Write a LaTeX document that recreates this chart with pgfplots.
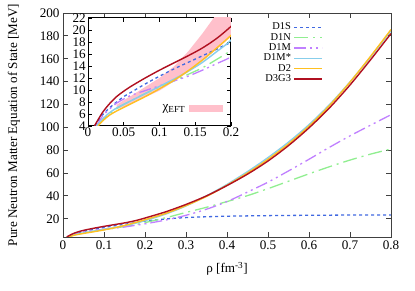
\documentclass[border=0pt]{standalone}
\usepackage{fontspec}
\setmainfont{Liberation Serif}
\usepackage{pgfplots}
\pgfplotsset{compat=1.18}
\usepackage{pgfplotstable}

\definecolor{cDIS}{HTML}{4169E1}
\definecolor{cDIN}{HTML}{90EE90}
\definecolor{cDIM}{HTML}{C080FF}
\definecolor{cDIMs}{HTML}{87CEEB}
\definecolor{cDII}{HTML}{FFC020}
\definecolor{cDIII}{HTML}{B01020}
\definecolor{cband}{HTML}{FFC0CB}

\pgfplotstableread{
x y
0.010 4.0
0.02 5.8
0.03 7.0
0.04 8.0
0.05 8.9
0.06 9.6
0.08 11.0
0.10 12.3
0.12 13.5
0.14 14.6
0.16 15.7
0.18 16.8
0.20 17.9
0.25 19.8
0.30 21.0
0.35 21.7
0.40 22.2
0.50 22.7
0.60 23.0
0.70 23.2
0.80 23.3
}\tDIS

\pgfplotstableread{
x y
0.012 4.0
0.02 5.0
0.03 6.0
0.04 6.9
0.05 7.6
0.06 8.2
0.08 9.4
0.10 10.5
0.12 11.5
0.14 12.6
0.16 13.7
0.18 15.1
0.20 16.6
0.25 20.8
0.30 25.5
0.35 30.0
0.40 35.0
0.45 40.2
0.50 46.3
0.55 52.8
0.60 59.3
0.65 65.5
0.70 71.3
0.75 76.5
0.80 81.0
}\tDIN

\pgfplotstableread{
x y
0.012 4.0
0.02 5.6
0.03 6.8
0.04 7.8
0.05 8.5
0.06 9.1
0.08 9.9
0.10 10.7
0.12 11.5
0.14 12.3
0.16 13.3
0.18 14.4
0.20 15.5
0.25 18.8
0.30 23.0
0.35 28.3
0.40 35.0
0.45 43.3
0.50 52.0
0.55 61.8
0.60 72.0
0.65 82.5
0.70 92.5
0.75 101.8
0.80 111.0
}\tDIM

\pgfplotstableread{
x y
0.012 4.0
0.02 5.1
0.03 6.2
0.04 7.0
0.05 7.6
0.06 8.2
0.08 9.4
0.10 10.6
0.12 11.8
0.14 13.1
0.16 14.6
0.18 16.4
0.20 18.3
0.25 24.0
0.30 31.2
0.35 40.0
0.40 50.0
0.45 61.2
0.50 73.5
0.55 87.0
0.60 102.3
0.65 119.8
0.70 139.7
0.75 161.5
0.80 184.5
}\tDIMs

\pgfplotstableread{
x y
0.014 4.0
0.02 4.8
0.03 5.8
0.04 6.5
0.05 7.1
0.06 7.7
0.08 8.9
0.10 10.2
0.12 11.6
0.14 13.2
0.16 15.0
0.18 17.0
0.20 19.1
0.25 24.6
0.30 31.5
0.35 39.5
0.40 49.3
0.45 60.0
0.50 72.0
0.55 85.5
0.60 101.0
0.65 119.0
0.70 139.5
0.75 162.0
0.80 185.5
}\tDII

\pgfplotstableread{
x y
0.009 4.0
0.02 6.2
0.03 7.7
0.04 8.9
0.05 9.8
0.06 10.6
0.08 12.0
0.10 13.3
0.12 14.5
0.14 15.7
0.16 17.0
0.18 18.6
0.20 20.6
0.25 26.0
0.30 32.5
0.35 40.0
0.40 49.0
0.45 59.0
0.50 70.5
0.55 84.0
0.60 99.5
0.65 117.0
0.70 137.0
0.75 159.0
0.80 182.0
}\tDIII

% chiral EFT band: lower edge forward, upper edge backward
\pgfplotstableread{
x y
0.04 6.8
0.05 7.2
0.06 7.7
0.08 8.8
0.10 9.9
0.12 11.4
0.14 13.0
0.16 14.8
0.18 16.8
0.20 18.9
0.20 26.0
0.18 22.7
0.16 19.4
0.14 16.4
0.12 13.9
0.10 12.0
0.08 10.5
0.06 9.0
0.05 8.3
0.04 7.5
}\tband

\begin{document}
\begin{tikzpicture}
\useasboundingbox (-63bp,-54bp) rectangle (352bp,237bp);
\begin{axis}[
  scale only axis,
  width=328bp, height=224bp,
  xmin=0, xmax=0.8, ymin=4, ymax=200,
  xtick={0,0.1,...,0.8},
  ytick={20,40,...,200},
  tick align=inside,
  major tick length=5bp,
  axis line style={draw=black!75, line width=0.9bp},
  every tick/.style={black!75, line width=0.8bp},
  tick label style={font=\fontsize{13.2}{15}\selectfont},
  /pgf/number format/assume math mode=true,
  xticklabel style={/pgf/number format/fixed},
  label style={font=\fontsize{13.2}{15}\selectfont},
  xlabel={ρ [fm\textsuperscript{-3}]},
  ylabel={Pure Neutron Matter Equation of State [MeV]},
  xlabel style={at={(axis description cs:0.5,-0.1607)}, anchor=base},
  ylabel style={at={(axis description cs:-0.1494,0.5)}, anchor=center},
  legend plot pos=right,
  legend cell align=right,
  legend style={draw=none, fill=none, inner sep=0pt,
    at={(axis description cs:0.793,0.96)}, anchor=north east,
    font=\fontsize{10.5}{12}\selectfont,
    nodes={inner xsep=2.5bp, inner ysep=0.3bp, text height=7.4bp, text depth=2.3bp},
    row sep=0pt},
  legend image code/.code={\draw[#1] (0bp,0bp) -- (28bp,0bp);},
]
\addplot[cDIS, line width=1.3bp, dash pattern=on 3bp off 3bp, smooth] table[x=x,y=y] {\tDIS};
\addlegendentry{D1S}
\addplot[cDIN, line width=1.3bp, dash pattern=on 14bp off 5bp on 2bp off 5bp, smooth] table[x=x,y=y] {\tDIN};
\addlegendentry{D1N}
\addplot[cDIM, line width=1.3bp, dash pattern=on 12bp off 4bp on 2bp off 4bp on 2bp off 4bp, smooth] table[x=x,y=y] {\tDIM};
\addlegendentry{D1M}
\addplot[cDIMs, line width=1.4bp, smooth] table[x=x,y=y] {\tDIMs};
\addlegendentry{D1M*}
\addplot[cDII, line width=1.4bp, smooth] table[x=x,y=y] {\tDII};
\addlegendentry{D2}
\addplot[cDIII, line width=1.4bp, smooth] table[x=x,y=y] {\tDIII};
\addlegendentry{D3G3}
\end{axis}

\begin{axis}[
  at={(25bp,111bp)}, anchor=south west,
  scale only axis,
  width=143bp, height=108bp,
  xmin=0, xmax=0.2, ymin=4, ymax=22,
  xtick={0,0.05,0.1,0.15,0.2},
  ytick={4,6,...,22},
  tick align=inside,
  major tick length=4bp,
  axis background/.style={fill=white},
  axis line style={draw=black, line width=1bp},
  every tick/.style={black, line width=0.8bp},
  tick label style={font=\fontsize{13.2}{15}\selectfont},
  xticklabel style={inner sep=1.5bp},
  yticklabel style={inner sep=2bp},
  /pgf/number format/assume math mode=true,
  xticklabel style={/pgf/number format/fixed, /pgf/number format/precision=2},
  legend plot pos=right,
  legend cell align=right,
  legend style={draw=none, fill=none, inner sep=0pt,
    at={(axis description cs:0.944,0.162)}, anchor=east,
    font=\fontsize{13.2}{15}\selectfont,
    nodes={inner xsep=3.5bp, inner ysep=0pt}},
  legend image code/.code={\fill[#1] (0bp,-3.3bp) rectangle (34bp,3.3bp);},
]
\addplot[fill=cband, draw=none] table[x=x,y=y] {\tband} -- cycle;
\addlegendentry{χ\textsubscript{EFT}}
\addplot[cDIS, line width=1.3bp, dash pattern=on 3bp off 3bp, smooth] table[x=x,y=y] {\tDIS};
\addplot[cDIN, line width=1.3bp, dash pattern=on 14bp off 5bp on 2bp off 5bp, smooth] table[x=x,y=y] {\tDIN};
\addplot[cDIM, line width=1.3bp, dash pattern=on 12bp off 4bp on 2bp off 4bp on 2bp off 4bp, smooth] table[x=x,y=y] {\tDIM};
\addplot[cDIMs, line width=1.4bp, smooth] table[x=x,y=y] {\tDIMs};
\addplot[cDII, line width=1.4bp, smooth] table[x=x,y=y] {\tDII};
\addplot[cDIII, line width=1.4bp, smooth] table[x=x,y=y] {\tDIII};
\end{axis}
\end{tikzpicture}
\end{document}
